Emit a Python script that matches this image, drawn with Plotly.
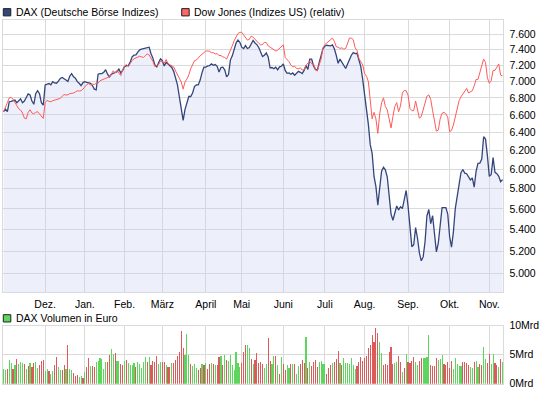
import plotly.graph_objects as go
import math

# ---------------- data ----------------
month_labels = ["Dez.", "Jan.", "Feb.", "März", "April", "Mai", "Juni", "Juli",
                "Aug.", "Sep.", "Okt.", "Nov."]
# trading-day index of the first trading day of each month (index 0 = 1 Nov 2010)
month_start_idx = [22, 43, 64, 84, 107, 126, 148, 170, 191, 214, 236, 257]

dax = [
    6638, 6668, 6638, 6755, 6759, 6763, 6774, 6744, 6767, 6790,
    6744, 6763, 6805, 6848, 6836, 6763, 6725, 6851, 6886, 6851,
    6744, 6714, 6957, 6969, 6973, 6957, 6997, 6981, 6977, 7004,
    7036, 7048, 7036, 7016, 7000, 7064, 7096, 7056, 7040, 6997,
    6977, 6949, 6985, 6997, 6989, 6985, 6977, 6949, 6906, 6898,
    7088, 7096, 7096, 7112, 7144, 7088, 7056, 7088, 7100, 7108,
    7120, 7152, 7104, 7136, 7184, 7196, 7196, 7241, 7307, 7328,
    7332, 7369, 7398, 7407, 7415, 7419, 7424, 7432, 7348, 7291,
    7209, 7176, 7233, 7282, 7258, 7192, 7237, 7213, 7192, 7172,
    7124, 7052, 6957, 6813, 6661, 6537, 6665, 6744, 6817, 6817,
    6859, 6937, 6957, 6957, 7016, 7108, 7176, 7176, 7192, 7196,
    7217, 7200, 7209, 7188, 7116, 7172, 7176, 7144, 7056, 7084,
    7266, 7320, 7411, 7487, 7525, 7496, 7432, 7415, 7453, 7415,
    7428, 7474, 7521, 7487, 7466, 7428, 7357, 7311, 7328, 7357,
    7307, 7168, 7172, 7156, 7176, 7144, 7180, 7188, 7217, 7136,
    7100, 7104, 7088, 7104, 7076, 7100, 7124, 7112, 7096, 7136,
    7196, 7148, 7278, 7278, 7192, 7148, 7136, 7237, 7311, 7415,
    7445, 7457, 7453, 7449, 7462, 7411, 7328, 7225, 7278, 7237,
    7209, 7160, 7217, 7278, 7328, 7361, 7348, 7353, 7258, 7184,
    7024, 6859, 6706, 6493, 6266, 6171, 5928, 5822, 5637, 5796,
    5982, 6023, 5996, 5921, 5724, 5549, 5489, 5559, 5628, 5590,
    5621, 5603, 5698, 5783, 5628, 5395, 5241, 5259, 5419, 5319,
    5185, 5113, 5148, 5289, 5533, 5593, 5456, 5533, 5319, 5194,
    5274, 5456, 5612, 5612, 5612, 5549, 5334, 5236, 5379, 5603,
    5724, 5872, 5965, 5999, 5961, 5955, 5918, 5891, 5911, 5816,
    5979, 6064, 6067, 6109, 6353, 6327, 6144, 5928, 5948, 6126,
    5969, 5955, 5928, 5872, 5894,
]

dow_rel = [
    6640, 6683, 6744, 6801, 6805, 6786, 6744, 6710, 6672, 6657,
    6623, 6563, 6556, 6631, 6661, 6623, 6612, 6631, 6638, 6612,
    6582, 6560, 6744, 6771, 6759, 6755, 6767, 6774, 6782, 6786,
    6794, 6821, 6840, 6836, 6836, 6851, 6851, 6859, 6871, 6886,
    6882, 6886, 6906, 6941, 6961, 6973, 6957, 6969, 6961, 6977,
    6977, 7008, 7016, 7028, 7040, 7040, 7056, 7088, 7132, 7104,
    7136, 7104, 7072, 7144, 7192, 7209, 7184, 7221, 7262, 7282,
    7295, 7303, 7315, 7307, 7299, 7324, 7344, 7332, 7287, 7250,
    7184, 7200, 7209, 7254, 7250, 7225, 7274, 7221, 7204, 7188,
    7180, 7128, 7080, 7044, 6993, 6906, 6993, 7028, 7080, 7156,
    7209, 7258, 7266, 7299, 7320, 7340, 7357, 7382, 7382, 7378,
    7361, 7361, 7344, 7348, 7324, 7324, 7307, 7299, 7278, 7328,
    7390, 7449, 7517, 7564, 7611, 7628, 7628, 7594, 7551, 7525,
    7534, 7577, 7564, 7530, 7509, 7483, 7462, 7466, 7496, 7492,
    7449, 7432, 7415, 7390, 7382, 7394, 7420, 7440, 7462, 7299,
    7274, 7246, 7204, 7180, 7188, 7160, 7156, 7168, 7140, 7144,
    7200, 7229, 7254, 7217, 7217, 7144, 7128, 7209, 7278, 7424,
    7466, 7487, 7513, 7534, 7551, 7509, 7437, 7432, 7415, 7424,
    7407, 7415, 7500, 7551, 7551, 7530, 7424, 7390, 7287, 7237,
    7204, 7096, 7064, 6997, 6798, 6556, 6631, 6556, 6391, 6612,
    6744, 6801, 6698, 6661, 6556, 6452, 6582, 6698, 6744, 6638,
    6706, 6859, 6890, 6886, 6832, 6676, 6650, 6650, 6763, 6638,
    6563, 6582, 6657, 6763, 6821, 6836, 6782, 6650, 6519, 6416,
    6428, 6556, 6620, 6631, 6612, 6575, 6409, 6424, 6485, 6575,
    6668, 6767, 6813, 6851, 6890, 6914, 6859, 6878, 6886, 6945,
    7024, 7024, 7096, 7196, 7278, 7237, 7044, 6977, 7008, 7136,
    7136, 7176, 7217, 7076, 7068,
]

# DAX turnover in billions of euro (Mrd)
volume_mrd = [
    2.5, 2.3, 2.6, 4.0, 3.5, 2.5, 3.2, 4.2, 3.4, 3.7,
    3.5, 3.4, 2.5, 3.0, 3.5, 2.9, 3.5, 3.7, 2.7, 3.2,
    3.9, 4.0, 2.2, 2.5, 2.2, 1.7, 2.2, 3.2, 4.6, 2.9,
    2.4, 2.4, 3.2, 2.5, 6.6, 2.5, 2.4, 1.9, 1.3, 1.5,
    1.2, 1.3, 1.0, 2.0, 2.9, 4.4, 3.0, 3.0, 2.9, 3.7,
    3.9, 4.4, 4.2, 2.5, 3.7, 3.7, 4.9, 5.9, 5.1, 5.2,
    3.9, 3.9, 3.4, 3.2, 3.9, 4.0, 3.5, 3.2, 3.2, 3.5,
    2.9, 3.7, 3.4, 2.7, 3.7, 4.6, 3.7, 4.6, 3.2, 3.9,
    3.7, 4.7, 3.4, 3.7, 3.7, 3.7, 3.2, 2.9, 2.9, 3.5,
    3.5, 4.0, 4.7, 5.4, 9.1, 6.1, 4.9, 8.6, 4.9, 3.4,
    3.0, 3.4, 2.7, 2.4, 2.7, 3.4, 3.2, 3.5, 2.5, 3.4,
    3.5, 3.4, 3.2, 3.2, 4.6, 4.7, 3.2, 4.9, 4.0, 3.9,
    4.9, 3.2, 2.4, 5.4, 3.5, 2.9, 3.5, 5.4, 6.7, 6.7,
    6.2, 4.2, 3.4, 4.0, 5.2, 3.5, 3.7, 3.4, 2.7, 3.4,
    7.8, 3.9, 3.4, 4.7, 4.7, 3.2, 1.7, 4.6, 3.4, 2.4,
    3.2, 2.7, 3.4, 3.4, 3.4, 1.7, 3.0, 3.4, 4.0, 3.6,
    8.1, 2.7, 3.7, 3.0, 3.7, 4.0, 2.9, 3.7, 3.9, 3.4,
    3.4, 1.7, 2.7, 3.2, 3.5, 3.7, 4.2, 5.7, 3.5, 3.2,
    4.4, 3.5, 3.5, 3.4, 4.4, 3.2, 2.5, 3.0, 3.7, 4.6,
    3.9, 4.4, 4.7, 6.1, 6.6, 8.3, 7.2, 9.6, 8.8, 7.2,
    5.2, 3.2, 3.4, 3.2, 5.4, 6.4, 3.4, 3.5, 3.7, 4.7,
    3.7, 2.0, 2.7, 5.1, 3.7, 3.5, 3.9, 4.6, 3.7, 3.2,
    3.9, 4.4, 4.4, 4.4, 4.6, 8.4, 3.2, 3.0, 3.0, 4.4,
    4.0, 4.2, 4.9, 3.4, 3.2, 3.7, 2.7, 3.9, 2.5, 4.4,
    3.4, 3.0, 3.0, 3.7, 3.7, 3.5, 3.2, 2.9, 2.7, 3.7,
    3.9, 2.9, 3.4, 3.2, 6.4, 4.2, 3.5, 5.1, 3.4, 5.1,
    3.5, 3.2, 2.9, 4.2, 3.7,
]

# day direction of each volume bar: g = up day, r = down day
volume_dir = ("ggrggrgrgg" "grgrgrrggr" "rrggrggrrg" "grrgrggrrr"
              "ggrgrrgrrg" "gggggrrggr" "ggrrgrgggg" "rgggggrgrr"
              "rrggrrgr" "rg"
              "rrrrrrgggr" "gggrrgrgrr" "grgrrgrgrg" "ggggggrrrg"
              "grgrrrrrgg" "rrggrgrgrr" "ggrgrggrrr" "grgrrrrggg"
              "grrrgrr" "rgr"
              "gggggggrrr" "rrrrrrrrrg" "grrrrrrggr" "rgrgrrrrgg"
              "rrggggrrrr" "gggrrrrrgg" "gggrrrrggr" "ggrrggrrgg"
              "rrgrg")

price_ticks = [5000, 5200, 5400, 5600, 5800, 6000, 6200, 6400, 6600, 6800,
               7000, 7200, 7400, 7600]
vol_ticks = [0, 5, 10]
vol_tick_labels = ["0Mrd", "5Mrd", "10Mrd"]

legend_main = ["DAX (Deutsche Börse Indizes)", "Dow Jones (Indizes US) (relativ)"]
legend_vol = "DAX Volumen in Euro"

# ---------------- layout helpers ----------------
W, H = 545, 398
FONT = "Liberation Sans, Arial, sans-serif"
FS = 10.5


def px_x(p):
    return p / W


def px_y(p):
    return 1 - p / H


PLOT_L, PLOT_R = 2.8, 503.3
MAIN_T, MAIN_B = 14.6, 294.8
VOL_T, VOL_B = 329.5, 389.5
GRID = "#dadada"

DAX_COL = "#34457a"
DOW_COL = "#ff5a5a"
UP_COL = "#5cd65c"
DN_COL = "#dc5a5a"

x = list(range(len(dax)))
bar_colors = [UP_COL if c == "g" else DN_COL for c in volume_dir]

fig = go.Figure()
fig.add_trace(go.Scatter(
    x=x, y=dax, mode="lines", line=dict(color=DAX_COL, width=1.3),
    fill="tozeroy", fillcolor="rgba(198,208,238,0.32)",
    xaxis="x", yaxis="y", hoverinfo="skip"))
fig.add_trace(go.Scatter(
    x=x, y=dow_rel, mode="lines", line=dict(color=DOW_COL, width=1),
    xaxis="x", yaxis="y", hoverinfo="skip"))
fig.add_trace(go.Bar(
    x=x, y=volume_mrd, width=0.6,
    marker=dict(color=bar_colors, line=dict(width=0)),
    xaxis="x2", yaxis="y2", hoverinfo="skip"))

xr = [-0.42, 264.4]
common_x = dict(
    domain=[px_x(PLOT_L), px_x(PLOT_R)], range=xr,
    tickmode="array", tickvals=month_start_idx, ticktext=month_labels,
    showgrid=True, gridcolor=GRID, gridwidth=1, zeroline=False,
    showline=True, linecolor=GRID, linewidth=1, mirror=True, ticks="",
    ticklabelstandoff=2,
    tickfont=dict(family=FONT, size=FS, color="#000"), fixedrange=True)

fig.update_layout(
    width=W, height=H,
    margin=dict(l=0, r=0, t=0, b=0),
    paper_bgcolor="white", plot_bgcolor="white",
    showlegend=False, separators=",.",
    bargap=0, hovermode=False,
    font=dict(family=FONT, size=FS, color="#000"),
    xaxis=dict(anchor="y", **common_x),
    xaxis2=dict(anchor="y2", showticklabels=False, **common_x),
    yaxis=dict(
        type="log", anchor="x", side="right",
        domain=[px_y(MAIN_B), px_y(MAIN_T)],
        range=[math.log10(4842), math.log10(7792)],
        tickmode="array", tickvals=price_ticks, tickformat=",d",
        showgrid=True, gridcolor=GRID, zeroline=False,
        showline=True, linecolor=GRID, mirror=True, ticks="",
        ticklabelstandoff=3, fixedrange=True,
        tickfont=dict(family=FONT, size=FS, color="#000")),
    yaxis2=dict(
        anchor="x2", side="right",
        domain=[px_y(VOL_B), px_y(VOL_T)], range=[0, 10],
        tickmode="array", tickvals=vol_ticks, ticktext=vol_tick_labels,
        showgrid=True, gridcolor=GRID, zeroline=False,
        showline=True, linecolor=GRID, mirror=True, ticks="",
        ticklabelstandoff=3, fixedrange=True,
        tickfont=dict(family=FONT, size=FS, color="#000")),
)

# legend squares and labels
squares = [
    (3.3, 2.7, DAX_COL),
    (181.7, 2.7, "#ff6666"),
    (3.3, 318.3, UP_COL),
]
for sx, sy, col in squares:
    fig.add_shape(type="rect", xref="paper", yref="paper",
                  x0=px_x(sx), x1=px_x(sx + 7.5), y0=px_y(sy + 7.5), y1=px_y(sy),
                  fillcolor=col, line=dict(color="#222", width=1))

labels = [
    (15, 6.5, legend_main[0]),
    (193, 6.5, legend_main[1]),
    (15, 322, legend_vol),
]
for lx, ly, txt in labels:
    fig.add_annotation(xref="paper", yref="paper", x=px_x(lx), y=px_y(ly),
                       text=txt, showarrow=False, xanchor="left", yanchor="middle",
                       font=dict(family=FONT, size=FS, color="#000"), borderpad=0)

fig.write_html(
    "out.html",
    config={"displayModeBar": False, "staticPlot": True},
    post_script="document.body.style.margin='0px';document.body.style.overflow='hidden';")
